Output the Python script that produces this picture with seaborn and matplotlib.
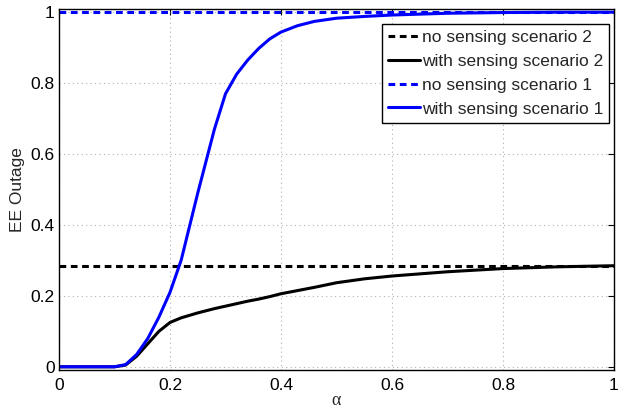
import numpy as np
import pandas as pd
import matplotlib
matplotlib.use("Agg")
import matplotlib.pyplot as plt
import seaborn as sns

# data
alpha = [0.0, 0.05, 0.10, 0.12, 0.14, 0.16, 0.18, 0.20, 0.22, 0.25, 0.28, 0.30,
         0.32, 0.34, 0.36, 0.38, 0.40, 0.43, 0.46, 0.50, 0.55, 0.60, 0.70, 0.80, 0.90, 1.00]
with_s1 = [0.0, 0.0, 0.0, 0.006, 0.035, 0.08, 0.14, 0.21, 0.30, 0.49, 0.67, 0.77,
           0.825, 0.865, 0.898, 0.925, 0.944, 0.962, 0.974, 0.983, 0.988, 0.992, 0.997, 0.999, 1.0, 1.0]
with_s2 = [0.0, 0.0, 0.0, 0.005, 0.03, 0.065, 0.10, 0.125, 0.138, 0.152, 0.164, 0.171,
           0.178, 0.185, 0.191, 0.198, 0.206, 0.215, 0.224, 0.237, 0.248, 0.256, 0.268, 0.277, 0.282, 0.285]
no_s2 = 0.285
no_s1 = 1.0

labels = ["no sensing scenario 2", "with sensing scenario 2",
          "no sensing scenario 1", "with sensing scenario 1"]

rows = []
for a, w1, w2 in zip(alpha, with_s1, with_s2):
    rows.append((a, no_s2, labels[0]))
    rows.append((a, w2, labels[1]))
    rows.append((a, no_s1, labels[2]))
    rows.append((a, w1, labels[3]))
df = pd.DataFrame(rows, columns=["alpha", "value", "series"])

sns.set_style("white")
plt.rcParams["font.family"] = ["Liberation Sans", "DejaVu Sans"]

fig = plt.figure(figsize=(6.18, 4.09), dpi=100)
ax = fig.add_axes([0.0955, 0.0954, 0.898, 0.8826])

palette = {labels[0]: "black", labels[1]: "black", labels[2]: "#0000ff", labels[3]: "#0000ff"}
dashes = {labels[0]: (2.2, 1.5), labels[1]: "", labels[2]: (2.2, 1.5), labels[3]: ""}
sns.lineplot(data=df, x="alpha", y="value", hue="series", style="series",
             hue_order=labels, style_order=labels, palette=palette, dashes=dashes,
             linewidth=2.2, ax=ax, legend=True)

ax.set_xlim(0, 1)
ax.set_ylim(-0.009, 1.009)
ticks = [0, 0.2, 0.4, 0.6, 0.8, 1]
ticklabels = ["0", "0.2", "0.4", "0.6", "0.8", "1"]
ax.set_xticks(ticks)
ax.set_xticklabels(ticklabels)
ax.set_yticks(ticks)
ax.set_yticklabels(ticklabels)
ax.tick_params(direction="in", length=4, width=0.8, labelsize=12.5, top=True, right=True,
               colors="black")
ax.tick_params(axis="x", pad=6)
ax.tick_params(axis="y", pad=3)
ax.grid(True, linestyle=(0, (1, 3)), color="#b0b0b0", linewidth=0.8)
for s in ax.spines.values():
    s.set_color("black")
    s.set_linewidth(1.0)
ax.set_xlabel("α", fontsize=13, labelpad=-1, family=["Liberation Serif", "DejaVu Serif"])
ax.set_ylabel("EE Outage", fontsize=12.5, labelpad=4)

leg = ax.legend(loc="upper right", bbox_to_anchor=(0.9915, 0.959), fontsize=12.5,
                frameon=True, fancybox=False, edgecolor="black", framealpha=1,
                handlelength=1.85, handletextpad=0.12, borderpad=0.35, labelspacing=0.5,
                borderaxespad=0)
leg.get_frame().set_linewidth(1.0)

fig.savefig("out.png", dpi=100)
